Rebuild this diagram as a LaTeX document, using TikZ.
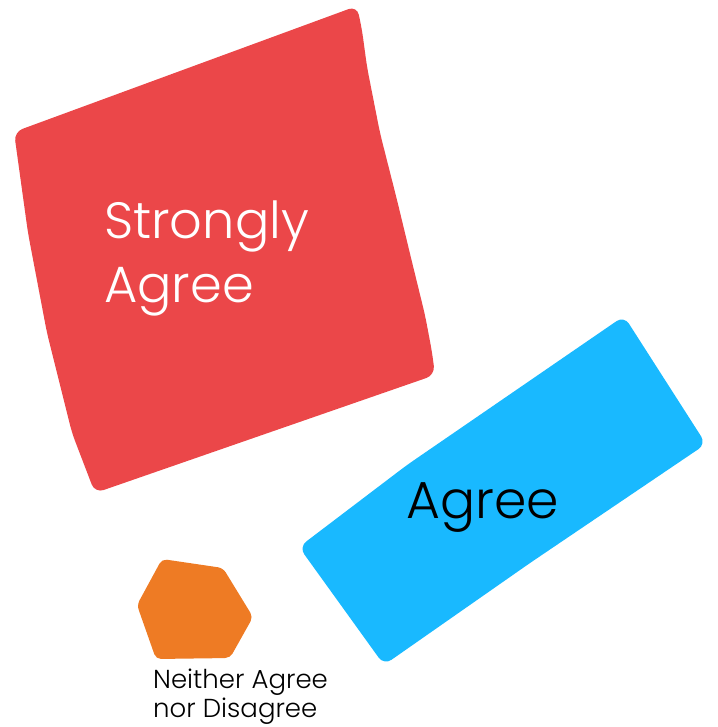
\documentclass[tikz,border=0pt]{standalone}
\usepackage{fontspec}
\setmainfont{Poppins}[UprightFont=* Light]
\usepackage{tikz}
\usetikzlibrary{positioning}

\definecolor{redbox}{HTML}{EB4749}
\definecolor{bluebox}{HTML}{19B9FF}
\definecolor{orangebox}{HTML}{EE7B24}

\begin{document}
\begin{tikzpicture}[x=1pt,y=-1pt,
    blob/.style={rounded corners=9pt},
    biglabel/.style={inner sep=0pt,align=left,font=\fontsize{51}{64}\selectfont},
    smalllabel/.style={inner sep=0pt,align=left,font=\fontsize{26}{29}\selectfont}]
      \useasboundingbox (0,0) rectangle (717,727);
      % strongly agree
      \fill[redbox,blob] (14,132) -- (357,6) -- (362,30) -- (367,67) -- (380,133)
        -- (397,200) -- (412,262) -- (425,315) -- (432,352) -- (435,375)
        -- (95,493) -- (72,433) -- (47,333) -- (28,233) -- cycle;
      % agree
      \fill[bluebox,blob] (299,547) -- (407,465) -- (624,316) -- (706,444)
        -- (530,563) -- (384,665) -- cycle;
      % neither agree nor disagree
      \fill[orangebox,rounded corners=5pt] (162,559) -- (223,568) -- (253,617)
        -- (230,658) -- (156,659) -- (137,605) -- cycle;
      \node[biglabel,white,anchor=base west] (strongly) at (104,302) {Strongly\\Agree};
      \node[biglabel,black,anchor=base west,font=\fontsize{52}{64}\selectfont] (agree) at (406,518) {Agree};
      \node[smalllabel,black,anchor=base west] (neither) at (153,717) {Neither Agree\\nor Disagree};
    \end{tikzpicture}
\end{document}
